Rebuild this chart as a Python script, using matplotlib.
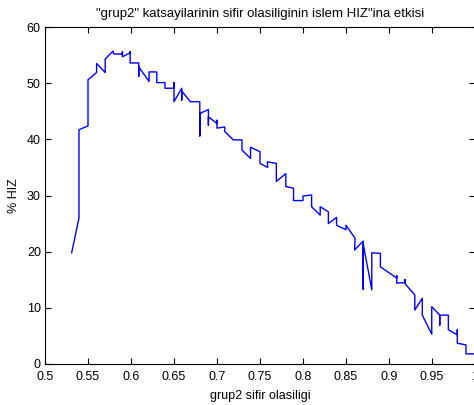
import matplotlib
matplotlib.use("Agg")
import matplotlib.pyplot as plt
import numpy as np

plt.rcParams['font.family'] = ['Liberation Sans', 'DejaVu Sans']
plt.rcParams['font.size'] = 9

# grup2 sifir olasiligi vs islem hizi (%)
sifir_olasiligi = [0.531, 0.5395, 0.5395, 0.550, 0.550, 0.560, 0.560, 0.570, 0.570, 0.579,
                   0.580, 0.590, 0.590, 0.590, 0.599, 0.599, 0.599, 0.609, 0.609, 0.609,
                   0.621, 0.621, 0.630, 0.630, 0.6395, 0.6395, 0.650, 0.650, 0.650, 0.659,
                   0.659, 0.659, 0.669, 0.680, 0.680, 0.680, 0.690, 0.690, 0.690, 0.700,
                   0.700, 0.700, 0.709, 0.709, 0.719, 0.729, 0.729, 0.739, 0.739, 0.750,
                   0.750, 0.759, 0.7585, 0.769, 0.769, 0.780, 0.780, 0.789, 0.789, 0.800,
                   0.800, 0.810, 0.810, 0.820, 0.820, 0.8295, 0.8295, 0.839, 0.839, 0.850,
                   0.850, 0.8605, 0.860, 0.870, 0.870, 0.870, 0.880, 0.880, 0.890, 0.890,
                   0.909, 0.909, 0.909, 0.9186, 0.9186, 0.9186, 0.930, 0.930, 0.9387, 0.9387,
                   0.9497, 0.9497, 0.959, 0.959, 0.959, 0.969, 0.969, 0.9794, 0.9794, 0.9794,
                   0.9895, 0.9895, 1.0]
hiz = [19.8, 26.0, 41.7, 42.4, 50.6, 51.9, 53.5, 51.9, 54.3, 55.7,
       55.2, 55.2, 55.6, 54.7, 55.4, 55.6, 53.6, 53.6, 51.2, 52.9,
       50.3, 52.0, 52.0, 50.1, 50.1, 49.1, 49.1, 50.1, 46.7, 49.1,
       47.0, 48.6, 46.7, 46.7, 40.6, 44.6, 45.3, 42.5, 44.0, 42.8,
       43.4, 42.0, 42.2, 41.4, 39.9, 39.9, 38.1, 36.6, 38.6, 37.8,
       35.7, 35.0, 36.0, 35.7, 32.5, 33.9, 31.6, 31.3, 29.1, 29.1,
       29.9, 30.1, 28.0, 26.5, 28.0, 27.1, 25.0, 26.1, 24.7, 23.9,
       24.7, 22.4, 20.3, 21.9, 13.3, 21.4, 13.2, 19.8, 19.7, 17.3,
       15.3, 15.7, 14.4, 14.5, 15.0, 14.3, 12.3, 9.6, 11.7, 8.7,
       5.3, 10.2, 8.7, 6.9, 8.7, 8.7, 6.1, 5.2, 6.1, 3.7,
       3.4, 1.8, 1.8]

x_ticks = [0.5, 0.55, 0.6, 0.65, 0.7, 0.75, 0.8, 0.85, 0.9, 0.95, 1.0]
x_tick_labels = ['0.5', '0.55', '0.6', '0.65', '0.7', '0.75', '0.8', '0.85', '0.9', '0.95', '1']
y_ticks = [0, 10, 20, 30, 40, 50, 60]

fig = plt.figure(figsize=(4.74, 4.05), dpi=100)
ax = fig.add_axes([45 / 474, 41 / 405, 430 / 474, 337 / 405])

ax.plot(sifir_olasiligi, hiz, color='#0000ff', linewidth=1.0)

ax.set_xlim(0.5, 1.0)
ax.set_ylim(0, 60)
ax.set_xticks(x_ticks)
ax.set_xticklabels(x_tick_labels)
ax.set_yticks(y_ticks)
ax.tick_params(direction='in', length=4, width=0.8, top=True, right=True,
               labelsize=9, colors='black')
ax.tick_params(axis='x', pad=5)
ax.tick_params(axis='y', pad=3)
for s in ax.spines.values():
    s.set_linewidth(0.8)

ax.set_title('"grup2" katsayilarinin sifir olasiliginin islem HIZ"ina etkisi',
             fontsize=9.5, pad=7.5)
ax.set_xlabel('grup2 sifir olasiligi', fontsize=9, labelpad=5)
ax.set_ylabel('% HIZ', fontsize=9, labelpad=5)

fig.savefig('out.png', dpi=100)
